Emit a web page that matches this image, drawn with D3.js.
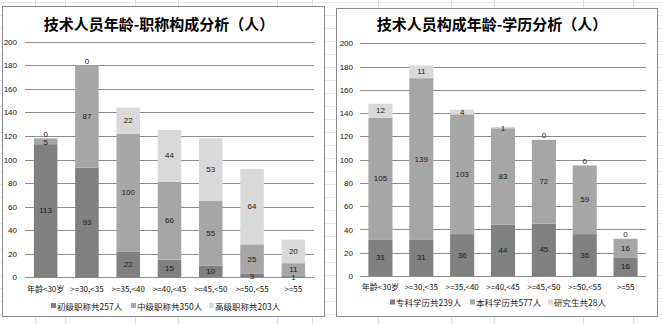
<!DOCTYPE html>
<html><head><meta charset="utf-8">
<script src="https://cdn.jsdelivr.net/npm/d3@7"></script>
<style>
html,body{margin:0;padding:0;background:#fff;}
svg{display:block;}
text{font-family:"Liberation Sans","DejaVu Sans",sans-serif;}
.cjk{font-family:"Noto Sans CJK SC","Liberation Sans",sans-serif;}
</style></head>
<body>
<svg id="c" width="662" height="324"></svg>
<script>
// ---- data ----
const categories = ["年龄<30岁", ">=30,<35", ">=35,<40", ">=40,<45", ">=45,<50", ">=50,<55", ">=55"];
const yTicks = [0, 20, 40, 60, 80, 100, 120, 140, 160, 180, 200];

const titleLeft = "技术人员年龄-职称构成分析（人）";
const seriesLeftNames = ["初级职称共257人", "中级职称共350人", "高级职称共203人"];
const junior = [113, 93, 22, 15, 10, 3, 1];
const middle = [5, 87, 100, 66, 55, 25, 11];
const senior = [0, 0, 22, 44, 53, 64, 20];

const titleRight = "技术人员构成年龄-学历分析（人）";
const seriesRightNames = ["专科学历共239人", "本科学历共577人", "研究生共28人"];
const college = [31, 31, 36, 44, 45, 36, 16];
const bachelor = [105, 139, 103, 83, 72, 59, 16];
const graduate = [12, 11, 4, 1, 0, 0, 0];

const colors = ["#808080", "#a6a6a6", "#d9d9d9"];

const svg = d3.select("#c");

// ---- sheet background grid ----
const sheet = svg.append("g");
const vLines = [35, 65, 135, 178, 277, 312, 378, 451, 494, 583, 633];
vLines.forEach(x => sheet.append("line").attr("x1", x + 0.5).attr("x2", x + 0.5).attr("y1", 0).attr("y2", 324)
  .attr("stroke", "#d8dbde").attr("stroke-width", 1));
for (let y = 2; y < 324; y += 13) {
  sheet.append("line").attr("x1", 0).attr("x2", 662).attr("y1", y + 0.5).attr("y2", y + 0.5)
    .attr("stroke", "#e3e5e7").attr("stroke-width", 1);
}

function drawChart(opt) {
  const g = svg.append("g");
  // frame
  g.append("rect").attr("x", opt.box[0] + 0.5).attr("y", opt.box[1] + 0.5)
    .attr("width", opt.box[2]).attr("height", opt.box[3])
    .attr("fill", "#fff").attr("stroke", "#8a8a8a").attr("stroke-width", 1);

  // title
  g.append("text").attr("class", "cjk").attr("x", opt.titleX).attr("y", 23)
    .attr("text-anchor", "middle").attr("dominant-baseline", "central")
    .attr("font-size", 15).attr("font-weight", "bold").attr("fill", "#000")
    .text(opt.title);

  const y = d3.scaleLinear().domain([0, 200]).range([opt.y0, opt.y200]);
  const x = d3.scaleBand().domain(categories).range(opt.xRange)
    .paddingInner(opt.pad).paddingOuter(opt.pad / 2);

  // gridlines
  g.append("g").selectAll("line").data(yTicks).join("line")
    .attr("x1", opt.xRange[0]).attr("x2", opt.xRange[1])
    .attr("y1", d => Math.round(y(d)) + 0.5).attr("y2", d => Math.round(y(d)) + 0.5)
    .attr("stroke", "#8c8c8c").attr("stroke-width", 1);

  // y axis labels
  const ya = g.append("g").attr("transform", `translate(${opt.labelX},0)`)
    .call(d3.axisLeft(y).tickValues(yTicks).tickSize(0).tickPadding(0));
  ya.select(".domain").remove();
  ya.selectAll("text").attr("font-size", 8).attr("fill", "#111")
    .attr("font-family", "Liberation Sans, sans-serif");

  // stacked bars
  const rows = categories.map((c, i) => ({ cat: c, a: opt.series[0][i], b: opt.series[1][i], c2: opt.series[2][i] }));
  const stack = d3.stack().keys(["a", "b", "c2"])(rows);
  stack.forEach((layer, li) => {
    const lg = g.append("g");
    lg.selectAll("rect").data(layer).join("rect")
      .attr("x", d => x(d.data.cat)).attr("width", x.bandwidth())
      .attr("y", d => y(d[1])).attr("height", d => y(d[0]) - y(d[1]))
      .attr("fill", colors[li]);
  });
  stack.forEach((layer, li) => {
    g.append("g").selectAll("text").data(layer).join("text")
      .attr("x", d => x(d.data.cat) + x.bandwidth() / 2)
      .attr("y", d => {
        const v = d[1] - d[0];
        const mid = (y(d[0]) + y(d[1])) / 2;
        if (v === 0) return mid - 4;
        if (y(d[0]) - y(d[1]) < 7) return mid + 1;
        return mid;
      })
      .attr("text-anchor", "middle").attr("dominant-baseline", "central")
      .attr("font-size", 8).attr("fill", "#1a1a1a")
      .text(d => d[1] - d[0]);
  });

  // category labels
  const xa = g.append("g").attr("transform", `translate(0,${opt.catY})`)
    .call(d3.axisBottom(x).tickSize(0).tickPadding(0));
  xa.select(".domain").remove();
  xa.selectAll("text").attr("class", "cjk").attr("font-size", 8).attr("fill", "#111")
    .attr("dy", "0.35em");

  // legend
  const leg = g.append("g");
  opt.names.forEach((n, i) => {
    leg.append("rect").attr("x", opt.legX[i]).attr("y", opt.legY - 2.5)
      .attr("width", 5).attr("height", 5).attr("fill", colors[i]);
    leg.append("text").attr("class", "cjk").attr("x", opt.legX[i] + 6).attr("y", opt.legY)
      .attr("dominant-baseline", "central").attr("font-size", 8.5).attr("fill", "#222")
      .text(n);
  });
}

drawChart({
  box: [2, 6, 322, 310], title: titleLeft, titleX: 159,
  y0: 277.3, y200: 41.7, xRange: [25, 314], pad: 0.43, labelX: 17,
  series: [junior, middle, senior], names: seriesLeftNames,
  catY: 289, legY: 305.5, legX: [51, 131, 209]
});
drawChart({
  box: [336, 8, 321, 308], title: titleRight, titleX: 492,
  y0: 276, y200: 43.3, xRange: [360, 646], pad: 0.41, labelX: 353,
  series: [college, bachelor, graduate], names: seriesRightNames,
  catY: 287, legY: 302, legX: [390, 470, 548]
});
</script>
</body></html>
